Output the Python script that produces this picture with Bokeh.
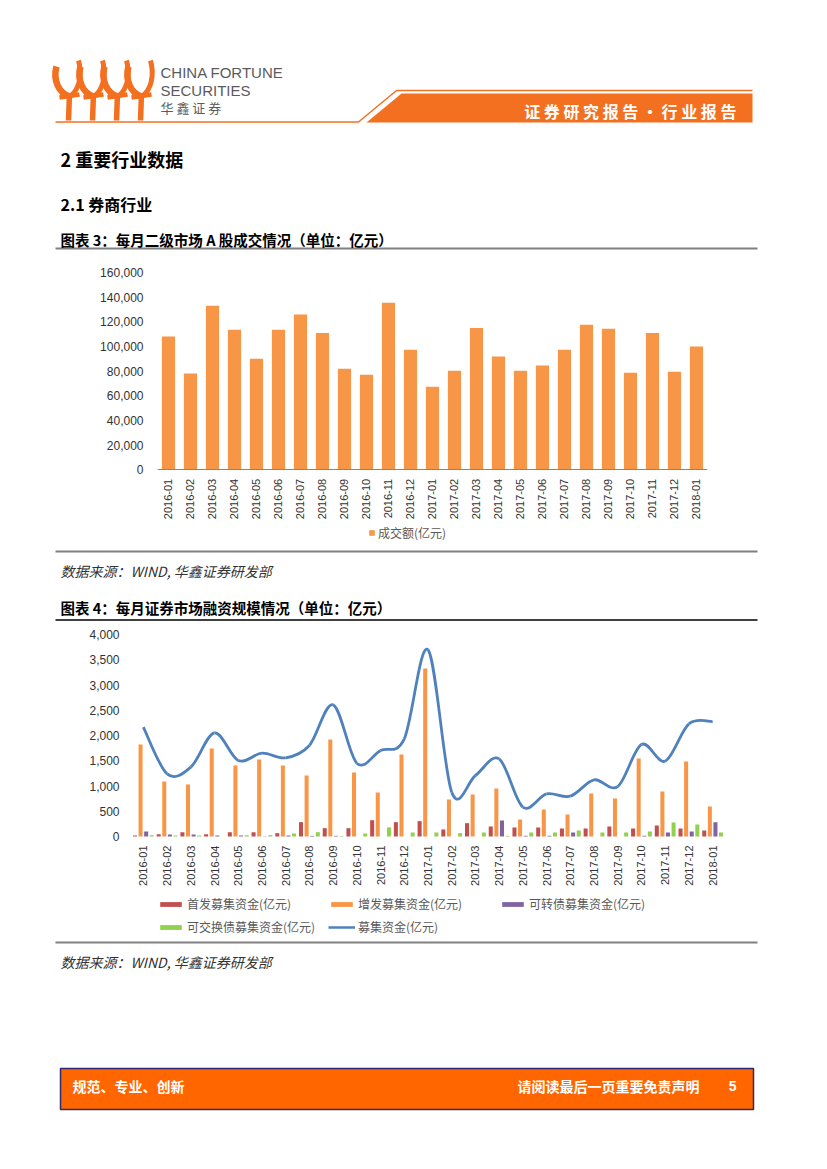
import math
from bokeh.plotting import figure
from bokeh.layouts import column
from bokeh.models import (Range1d, FactorRange, ColumnDataSource, Label, Legend, LegendItem,
                          NumeralTickFormatter, FixedTicker)
from bokeh.transform import dodge
from bokeh.embed import file_html
from bokeh.resources import INLINE

# ---------------- data ----------------
months = ["2016-01", "2016-02", "2016-03", "2016-04", "2016-05", "2016-06", "2016-07",
          "2016-08", "2016-09", "2016-10", "2016-11", "2016-12", "2017-01", "2017-02",
          "2017-03", "2017-04", "2017-05", "2017-06", "2017-07", "2017-08", "2017-09",
          "2017-10", "2017-11", "2017-12", "2018-01"]

# 成交额(亿元)
turnover = [108000, 78000, 133000, 113600, 90000, 113600, 126000, 111000, 82000, 77000,
            135500, 97400, 67400, 80400, 115000, 91800, 80400, 84500, 97400, 117600,
            114400, 78800, 111000, 79600, 100000]
ticks1 = [0, 20000, 40000, 60000, 80000, 100000, 120000, 140000, 160000]

# 首发募集资金(亿元)
ipo = [20, 46, 86, 46, 86, 86, 66, 284, 165, 165, 323, 284, 304, 139, 264, 198, 178, 178,
       158, 158, 198, 158, 218, 158, 119]
# 增发募集资金(亿元)
seo = [1822, 1089, 1030, 1743, 1406, 1525, 1406, 1208, 1921, 1267, 871, 1624, 3327, 733,
       832, 950, 337, 535, 436, 851, 752, 1545, 891, 1485, 594]
# 可转债募集资金(亿元)
cb = [99, 40, 40, 20, 20, 5, 20, 13, 13, 0, 0, 0, 0, 0, 0, 317, 13, 13, 79, 0, 0, 13, 79,
      99, 280]
# 可交换债募集资金(亿元)
eb = [25, 20, 20, 0, 26, 26, 59, 86, 10, 60, 180, 79, 79, 66, 79, 13, 79, 79, 119, 79, 79,
      99, 277, 238, 79]
# 募集资金(亿元)
total = [2165, 1241, 1373, 2053, 1505, 1650, 1558, 1802, 2607, 1452, 1703, 1934, 3697, 878,
         1208, 1538, 581, 845, 799, 1122, 990, 1822, 1492, 2231, 2277]
ticks2 = [0, 500, 1000, 1500, 2000, 2500, 3000, 3500, 4000]

# ---------------- styles ----------------
W = 827
CJK = "Noto Sans CJK SC"
LAT = "Liberation Sans"
HDR = "#F37021"
C_RED = "#C0504D"
C_ORANGE = "#F79646"
C_PURPLE = "#8064A2"
C_GREEN = "#92D050"
C_BLUE = "#4F81BD"


def no_align(p):
    try:
        p.frame_align = False
    except Exception:
        pass
    return p


def band(y0, y1):
    p = figure(width=W, height=y1 - y0, x_range=Range1d(0, W), y_range=Range1d(y1, y0),
               x_axis_type=None, y_axis_type=None, toolbar_location=None,
               output_backend="svg", min_border=0, outline_line_color=None)
    return no_align(p)


def txt(p, x, y, s, size, color="#000000", style="normal", font=CJK, align="left"):
    p.add_layout(Label(x=x, y=y, text=s, text_font=font, text_font_size=f"{size}px",
                       text_font_style=style, text_color=color, text_align=align,
                       text_baseline="middle"))


def hrule(p, x0, x1, y, color, w):
    p.segment(x0=[x0], y0=[y], x1=[x1], y1=[y], line_color=color, line_width=w)


def style_axes(p, ticks, standoff_y, axis_line):
    p.xgrid.visible = False
    p.ygrid.visible = False
    p.xaxis.fixed_location = 0
    p.xaxis.major_label_orientation = math.pi / 2
    p.xaxis.axis_line_color = axis_line
    p.xaxis.major_tick_line_color = None
    p.xaxis.minor_tick_line_color = None
    p.xaxis.major_tick_out = 0
    p.xaxis.major_tick_in = 0
    p.xaxis.major_label_text_font = LAT
    p.xaxis.major_label_text_font_size = "11px"
    p.xaxis.major_label_text_color = "#333333"
    p.xaxis.major_label_standoff = 9
    p.yaxis.ticker = FixedTicker(ticks=ticks)
    p.yaxis.formatter = NumeralTickFormatter(format="0,0")
    p.yaxis.axis_line_color = None
    p.yaxis.major_tick_line_color = None
    p.yaxis.minor_tick_line_color = None
    p.yaxis.major_tick_out = 0
    p.yaxis.major_tick_in = 0
    p.yaxis.major_label_text_font = LAT
    p.yaxis.major_label_text_font_size = "12px"
    p.yaxis.major_label_text_color = "#333333"
    p.yaxis.major_label_standoff = standoff_y


# ---------------- top band (header + headings) ----------------
pA = band(0, 252)
for i in range(4):
    cx = 69 + 24 * i
    pA.segment(x0=[cx], y0=[93], x1=[cx - 1], y1=[120], line_color=HDR, line_width=5.5)
    pA.segment(x0=[cx - 10], y0=[97], x1=[cx + 10], y1=[94], line_color=HDR, line_width=4.5)
    pA.bezier(x0=[cx], y0=[96], x1=[cx - 13], y1=[66], cx0=[cx - 10], cy0=[93],
              cx1=[cx - 17], cy1=[80], line_color=HDR, line_width=6.5)
    pA.bezier(x0=[cx], y0=[96], x1=[cx + 9], y1=[60], cx0=[cx + 10], cy0=[90],
              cx1=[cx + 13], cy1=[74], line_color=HDR, line_width=5)
txt(pA, 160, 72, "CHINA FORTUNE", 15, "#5b5b5e", font=LAT)
txt(pA, 160, 90, "SECURITIES", 15, "#5b5b5e", font=LAT)
txt(pA, 160, 107, "华 鑫 证 券", 13, "#5b5b5e")
pA.line(x=[55, 358, 396, 752], y=[121.5, 121.5, 90, 90], line_color=HDR, line_width=1.5)
pA.patch(x=[366, 401, 752, 752], y=[122, 93, 93, 122], fill_color=HDR, line_color=None)
txt(pA, 736, 110, "证 券 研 究 报 告 • 行 业 报 告", 16, "#ffffff", "bold", align="right")
txt(pA, 60, 158, "2 重要行业数据", 18, "#000000", "bold")
txt(pA, 60, 203, "2.1 券商行业", 16, "#000000", "bold")
txt(pA, 60, 239, "图表 3：每月二级市场 A 股成交情况（单位：亿元）", 14.5, "#000000", "bold")
hrule(pA, 55, 757, 248, "#808080", 2)

# ---------------- chart 1 (page y 252..548; plot frame reaches to its bottom) ----------------
F1_TOP, F1_ZERO, F1_BOT = 272.0, 469.3, 548.0
y1_start = -ticks1[-1] * (F1_BOT - F1_ZERO) / (F1_ZERO - F1_TOP)
src1 = ColumnDataSource(dict(months=months, turnover=turnover))
pB = figure(width=W, height=296, x_range=FactorRange(factors=months),
            y_range=Range1d(y1_start, ticks1[-1]), toolbar_location=None,
            output_backend="svg", min_border_left=157, min_border_right=120,
            min_border_top=20, min_border_bottom=0, outline_line_color=None)
no_align(pB)
r1 = pB.vbar(x="months", top="turnover", width=0.6, source=src1, fill_color=C_ORANGE,
             line_color=None)
style_axes(pB, ticks1, 14, "#868686")
leg1 = Legend(items=[LegendItem(label="成交额(亿元)", renderers=[r1])],
              location=(211, 7), orientation="horizontal", glyph_width=7, glyph_height=7,
              label_text_font=CJK, label_text_font_size="12px", label_text_color="#595959",
              label_standoff=3, label_height=15, padding=0, margin=0,
              border_line_color=None, background_fill_alpha=0)
pB.add_layout(leg1)

# ---------------- middle band ----------------
pC = band(548, 625)
hrule(pC, 55, 757, 551, "#808080", 2)
txt(pC, 60, 570, "数据来源：WIND, 华鑫证券研发部", 14, "#333333", "italic")
txt(pC, 60, 607, "图表 4：每月证券市场融资规模情况（单位：亿元）", 14.5, "#000000", "bold")
hrule(pC, 55, 757, 619.5, "#000000", 1.5)

# ---------------- chart 2 (page y 625..940) ----------------
F2_TOP, F2_ZERO, F2_BOT = 634.0, 836.0, 940.0
y2_start = -ticks2[-1] * (F2_BOT - F2_ZERO) / (F2_ZERO - F2_TOP)
src2 = ColumnDataSource(dict(months=months, ipo=ipo, seo=seo, cb=cb, eb=eb, total=total))
pD = figure(width=W, height=315, x_range=FactorRange(factors=months),
            y_range=Range1d(y2_start, ticks2[-1]), toolbar_location=None,
            output_backend="svg", min_border_left=131, min_border_right=103,
            min_border_top=9, min_border_bottom=0, outline_line_color=None)
no_align(pD)
bw = 0.17
r_ipo = pD.vbar(x=dodge("months", -0.354, range=pD.x_range), top="ipo", width=bw,
                source=src2, fill_color=C_RED, line_color=None)
r_seo = pD.vbar(x=dodge("months", -0.118, range=pD.x_range), top="seo", width=bw,
                source=src2, fill_color=C_ORANGE, line_color=None)
r_cb = pD.vbar(x=dodge("months", 0.118, range=pD.x_range), top="cb", width=bw,
               source=src2, fill_color=C_PURPLE, line_color=None)
r_eb = pD.vbar(x=dodge("months", 0.354, range=pD.x_range), top="eb", width=bw,
               source=src2, fill_color=C_GREEN, line_color=None)

# smoothed total line (Catmull-Rom style bezier through the data points)
xs = [i + 0.5 for i in range(len(months))]
n = len(total)
bz = dict(x0=[], y0=[], x1=[], y1=[], cx0=[], cy0=[], cx1=[], cy1=[])
for i in range(n - 1):
    a = i - 1 if i > 0 else i
    d = i + 2 if i + 2 < n else i + 1
    bz["x0"].append(xs[i]); bz["y0"].append(total[i])
    bz["x1"].append(xs[i + 1]); bz["y1"].append(total[i + 1])
    bz["cx0"].append(xs[i] + (xs[i + 1] - xs[a]) / 6)
    bz["cy0"].append(total[i] + (total[i + 1] - total[a]) / 6)
    bz["cx1"].append(xs[i + 1] - (xs[d] - xs[i]) / 6)
    bz["cy1"].append(total[i + 1] - (total[d] - total[i]) / 6)
pD.bezier(source=ColumnDataSource(bz), x0="x0", y0="y0", x1="x1", y1="y1", cx0="cx0",
          cy0="cy0", cx1="cx1", cy1="cy1", line_color=C_BLUE, line_width=2.8)
r_tot = pD.line(x="months", y="total", source=src2, line_color=C_BLUE, line_width=2.5)
r_tot.visible = False

style_axes(pD, ticks2, 12, None)
leg2 = Legend(items=[LegendItem(label="首发募集资金(亿元)", renderers=[r_ipo]),
                     LegendItem(label="增发募集资金(亿元)", renderers=[r_seo]),
                     LegendItem(label="可转债募集资金(亿元)", renderers=[r_cb]),
                     LegendItem(label="可交换债募集资金(亿元)", renderers=[r_eb]),
                     LegendItem(label="募集资金(亿元)", renderers=[r_tot])],
              location=(26, 5), orientation="horizontal", ncols=3,
              glyph_width=27, glyph_height=6, label_width=135, label_height=15,
              spacing=6, label_standoff=3,
              label_text_font=CJK, label_text_font_size="12px", label_text_color="#595959",
              padding=0, margin=0, border_line_color=None, background_fill_alpha=0)
pD.add_layout(leg2)

# ---------------- bottom band ----------------
pE = band(940, 1169)
hrule(pE, 55, 757, 942, "#808080", 2)
txt(pE, 60, 961, "数据来源：WIND, 华鑫证券研发部", 14, "#333333", "italic")
pE.quad(left=[60], right=[753], top=[1068], bottom=[1109], fill_color="#FF6600",
        line_color="#2E2A6B", line_width=1.5)
txt(pE, 72, 1085, "规范、专业、创新", 14, "#ffffff", "bold")
txt(pE, 699, 1085, "请阅读最后一页重要免责声明", 14, "#ffffff", "bold", align="right")
txt(pE, 736, 1085, "5", 14, "#ffffff", "bold", font=LAT, align="right")

page = column(pA, pB, pC, pD, pE, spacing=0)
open("out.html", "w").write(file_html(page, INLINE))
